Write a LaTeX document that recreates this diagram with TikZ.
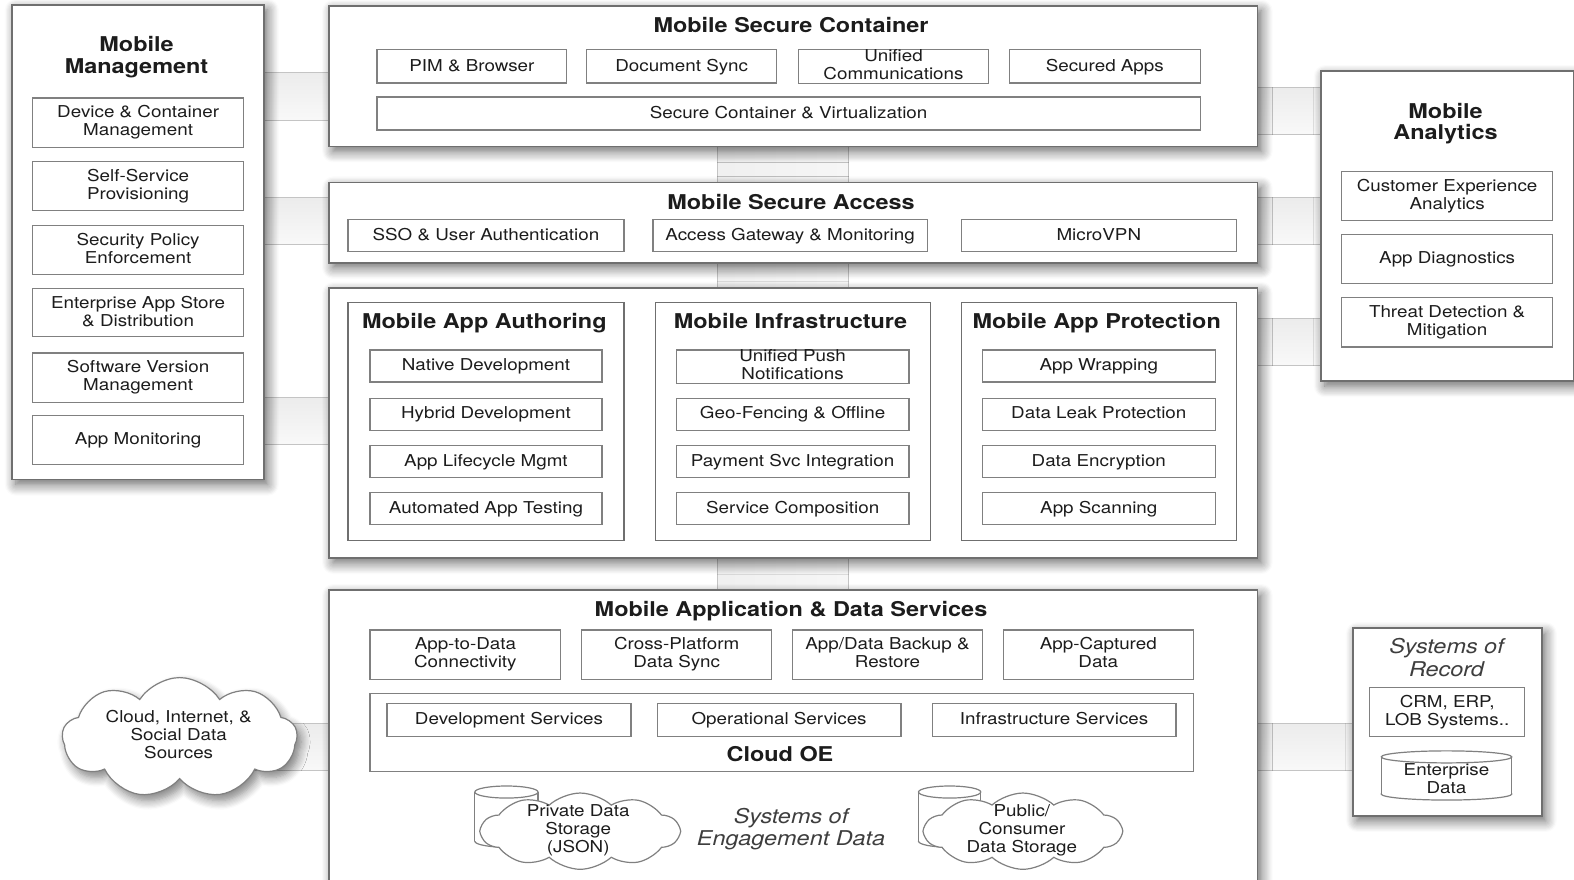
\documentclass[tikz,border=0pt]{standalone}
\usepackage{fontspec}
\setmainfont{TeX Gyre Heros}[FakeStretch=1.15]
\usetikzlibrary{shapes.symbols,shadows.blur}
\definecolor{pbord}{HTML}{6F6F6F}
\definecolor{bbord}{HTML}{808080}
\definecolor{txt}{HTML}{1C1C1C}
\definecolor{bandline}{HTML}{C4C4C4}
\newcommand\bxf{\fontsize{16.3}{18}\selectfont}
\newcommand\ttf{\fontsize{20.3}{21.5}\selectfont\bfseries}
\newcommand\itf{\fontsize{20.3}{22}\selectfont\itshape}
\newcommand\bstrut{\rule[-3.5pt]{0pt}{16.5pt}}
\newcommand\tstrut{\rule[-4.5pt]{0pt}{19.5pt}}
\pgfdeclarelayer{bg}
\pgfsetlayers{bg,main}
\newcommand\hband[4]{%
  \fill[bandfill] (#1.east |- 0,#3) rectangle (#2.west |- 0,#4);
  \draw[bandedge] (#1.east |- 0,#3) -- (#2.west |- 0,#3) (#1.east |- 0,#4) -- (#2.west |- 0,#4);}
\newcommand\vband[4]{%
  \fill[vbandfill] (#3,0 |- #1.south) rectangle (#4,0 |- #2.north);
  \draw[bandedge] (#3,0 |- #1.south) -- (#3,0 |- #2.north) (#4,0 |- #1.south) -- (#4,0 |- #2.north);}
% cylinder: cx, rx, top-ellipse cy, bottom-ellipse cy, ry
\newcommand\cyl[5]{%
  \filldraw[fill=white,draw=bbord,line width=1.2pt] (#1,#4) ellipse[x radius=#2, y radius=#5];
  \fill[white] (#1-#2,#3) rectangle (#1+#2,#4);
  \draw[bbord,line width=1.2pt] (#1-#2,#3) -- (#1-#2,#4) (#1+#2,#3) -- (#1+#2,#4);
  \filldraw[fill=white,draw=bbord,line width=1.2pt] (#1,#3) ellipse[x radius=#2, y radius=#5];}
\begin{document}
\begin{tikzpicture}[x=1pt,y=-1pt,
  pshadow/.style={blur shadow={shadow xshift=4pt, shadow yshift=-5pt, shadow blur radius=11pt, shadow blur steps=10, shadow opacity=60}},
  panel/.style={draw=pbord, line width=1.6pt, fill=white, anchor=north west, inner sep=0pt, pshadow},
  subpanel/.style={draw=pbord, line width=1.3pt, fill=white, anchor=north west, inner sep=0pt},
  bx/.style={draw=bbord, line width=1.2pt, fill=white, anchor=north west, inner sep=0pt, align=center, font=\bxf, text=txt,
    execute at begin node=\bstrut, execute at end node=\bstrut},
  ttl/.style={font=\ttf, text=txt, align=center, inner sep=0pt,
    execute at begin node=\tstrut, execute at end node=\tstrut},
  itl/.style={font=\itf, text=txt!85, align=center, inner sep=0pt},
  lbl/.style={font=\bxf, text=txt, align=center, inner sep=0pt,
    execute at begin node=\bstrut, execute at end node=\bstrut},
  sz/.style 2 args={minimum width=#1pt, minimum height=#2pt},
  bandfill/.style={top color=gray!15, bottom color=gray!5, draw=none},
  vbandfill/.style={left color=gray!12, right color=gray!7, draw=none},
  bandedge/.style={draw=bandline, line width=1pt},
  cloudy/.style={cloud, cloud ignores aspect, draw=bbord, line width=1.2pt, fill=white, inner sep=0pt}
]
\useasboundingbox (0,0) rectangle (1568,876);
\clip (0,0) rectangle (1568,876);
\begin{pgfonlayer}{bg}
\fill[white] (0,0) rectangle (1568,876);
\end{pgfonlayer}
% priming path for the blur shadow machinery (outside the visible area)
\path[pshadow, fill=white] (-200,-200) rectangle (-150,-150);

% ---------- Mobile Management ----------
\node[panel, sz={251}{473}] (mm) at (11,4) {};
\node[ttl] (mmt) at (136,57) {Mobile\\Management};
\node[bx, sz={210}{49}] (mm1) at (32,97) {Device \& Container\\Management};
\node[bx, sz={210}{49}] (mm2) at (32,160) {Self-Service\\Provisioning};
\node[bx, sz={210}{49}] (mm3) at (32,224) {Security Policy\\Enforcement};
\node[bx, sz={210}{48}] (mm4) at (32,287) {Enterprise App Store\\\& Distribution};
\node[bx, sz={210}{49}] (mm5) at (32,351) {Software Version\\Management};
\node[bx, sz={210}{49}] (mm6) at (32,413) {App Monitoring};

% ---------- Mobile Secure Container ----------
\node[panel, sz={925}{140}] (msc) at (327,5) {};
\node[ttl] (msct) at (788,27) {Mobile Secure Container};
\node[bx, sz={189}{33}] (msc1) at (375,49) {PIM \& Browser};
\node[bx, sz={189}{33}] (msc2) at (584,49) {Document Sync};
\node[bx, sz={189}{33}] (msc3) at (795,49) {Unified\\Communications};
\node[bx, sz={190}{33}] (msc4) at (1005,49) {Secured Apps};
\node[bx, sz={820}{33}] (msc5) at (375,96) {Secure Container \& Virtualization};

% ---------- Mobile Secure Access ----------
\node[panel, sz={925}{80}] (msa) at (327,181) {};
\node[ttl] (msat) at (788,203) {Mobile Secure Access};
\node[bx, sz={275}{32}] (msa1) at (346,218) {SSO \& User Authentication};
\node[bx, sz={273}{32}] (msa2) at (650,218) {Access Gateway \& Monitoring};
\node[bx, sz={274}{32}] (msa3) at (957,218) {MicroVPN};

% ---------- Middle panel ----------
\node[panel, sz={925}{269}] (mid) at (327,286) {};
\node[subpanel, sz={275}{237}] (auth) at (346,301) {};
\node[subpanel, sz={274}{237}] (infra) at (652,301) {};
\node[subpanel, sz={274}{237}] (prot) at (957,301) {};
\node[ttl] (autht) at (482.5,322) {Mobile App Authoring};
\node[ttl] (infrat) at (787.5,322) {Mobile Infrastructure};
\node[ttl] (prott) at (1092.5,322) {Mobile App Protection};
\node[bx, sz={231}{32}] (a1) at (368,348) {Native Development};
\node[bx, sz={231}{32}] (a2) at (368,396) {Hybrid Development};
\node[bx, sz={231}{32}] (a3) at (368,443) {App Lifecycle Mgmt};
\node[bx, sz={231}{32}] (a4) at (368,490) {Automated App Testing};
\node[bx, sz={232}{32}] (i1) at (673,348) {Unified Push\\Notifications};
\node[bx, sz={232}{32}] (i2) at (673,396) {Geo-Fencing \& Offline};
\node[bx, sz={232}{32}] (i3) at (673,443) {Payment Svc Integration};
\node[bx, sz={232}{32}] (i4) at (673,490) {Service Composition};
\node[bx, sz={232}{32}] (p1) at (978,348) {App Wrapping};
\node[bx, sz={232}{32}] (p2) at (978,396) {Data Leak Protection};
\node[bx, sz={232}{32}] (p3) at (978,443) {Data Encryption};
\node[bx, sz={232}{32}] (p4) at (978,490) {App Scanning};

% ---------- Mobile Application & Data Services ----------
\node[panel, sz={925}{330}] (mads) at (327,587) {};
\node[ttl] (madst) at (788,609) {Mobile Application \& Data Services};
\node[bx, sz={190}{49}] (d1) at (368,627) {App-to-Data\\Connectivity};
\node[bx, sz={189}{49}] (d2) at (579,627) {Cross-Platform\\Data Sync};
\node[bx, sz={189}{49}] (d3) at (789,627) {App/Data Backup \&\\Restore};
\node[bx, sz={189}{49}] (d4) at (999,627) {App-Captured\\Data};
\node[bx, sz={820}{78}] (coe) at (368,690) {};
\node[bx, sz={243}{33}] (c1) at (385,700) {Development Services};
\node[bx, sz={243}{33}] (c2) at (654,700) {Operational Services};
\node[bx, sz={243}{33}] (c3) at (928,700) {Infrastructure Services};
\node[ttl] (coet) at (777,753) {Cloud OE};

% storage
\cyl{504.5}{31.5}{789}{838}{6}
\node[cloudy, cloud puffs=10, cloud puff arc=85, sz={197}{76}] (pdc) at (578,828) {};
\node[lbl] (pdt) at (576,827) {Private Data\\Storage\\(JSON)};
\cyl{946}{31}{789}{838}{6}
\node[cloudy, cloud puffs=10, cloud puff arc=85, sz={196}{76}] (pcc) at (1019,828) {};
\node[lbl] (pct) at (1018,827) {Public/\\Consumer\\Data Storage};
\node[itl] (soe) at (788,826) {Systems of\\Engagement Data};

% ---------- Mobile Analytics ----------
\node[panel, sz={252}{309}] (ma) at (1315,70) {};
\node[ttl] (mat) at (1440,123) {Mobile\\Analytics};
\node[bx, sz={210}{49}] (ma1) at (1336,170) {Customer Experience\\Analytics};
\node[bx, sz={210}{49}] (ma2) at (1336,233) {App Diagnostics};
\node[bx, sz={210}{49}] (ma3) at (1336,296) {Threat Detection \&\\Mitigation};

% ---------- Systems of Record ----------
\node[panel, sz={188}{187}] (sor) at (1347,625) {};
\node[itl] (sort) at (1441,655) {Systems of\\Record};
\node[bx, sz={154}{49}] (crm) at (1364,684) {CRM, ERP,\\LOB Systems..};
\cyl{1441}{65}{754}{791}{6}
\node[lbl] (ent) at (1441,777) {Enterprise\\Data};

% ---------- Cloud sources ----------
\node[cloudy, cloud puffs=9, cloud puff arc=115, sz={234}{120},
  blur shadow={shadow xshift=4pt, shadow yshift=-6pt, shadow blur radius=9pt, shadow blur steps=8, shadow opacity=50}] (lcl) at (179,735) {};
\node[lbl] (lclt) at (178,733) {Cloud, Internet, \&\\Social Data\\Sources};

% ---------- connecting bands ----------
\begin{pgfonlayer}{bg}
\hband{mm}{msc}{72}{120}
\hband{mm}{msa}{197}{244}
\hband{mm}{mid}{396}{443}
\hband{msc}{ma}{87}{134}
\hband{msa}{ma}{197}{244}
\hband{mid}{ma}{317}{364}
\vband{msc}{msa}{715}{845}
\vband{msa}{mid}{715}{845}
\vband{mid}{mads}{715}{845}
\fill[bandfill] (lcl.center |- 0,721) rectangle (mads.west |- 0,768);
\draw[bandedge] (lcl.center |- 0,721) -- (mads.west |- 0,721) (lcl.center |- 0,768) -- (mads.west |- 0,768);
\hband{mads}{sor}{721}{768}
\end{pgfonlayer}
\end{tikzpicture}
\end{document}
